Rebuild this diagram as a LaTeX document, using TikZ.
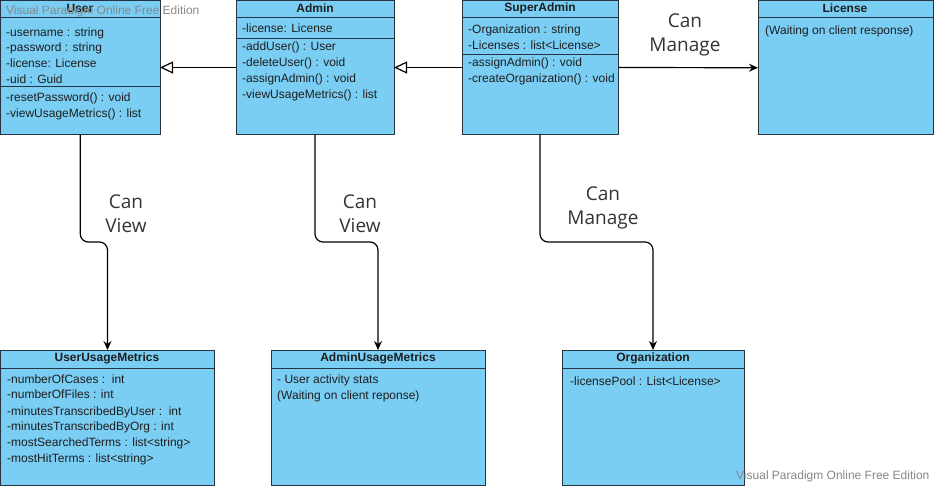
\documentclass[tikz,border=0pt]{standalone}
\usepackage{fontspec}
\setmainfont{Liberation Sans}
\newfontfamily\linkfont{Open Sans}
\usetikzlibrary{arrows.meta}

\definecolor{boxfill}{RGB}{122,206,244}
\definecolor{boxline}{RGB}{38,52,66}
\definecolor{markgray}{RGB}{135,135,135}
\definecolor{inktext}{RGB}{30,30,30}

\tikzset{
  classbox/.style={draw=boxline, fill=boxfill, line width=1pt, anchor=north west, inner sep=0pt, outer sep=0pt},
  sepline/.style={draw=boxline, line width=1pt},
  head/.style={font=\fontsize{12}{14}\selectfont\bfseries, text=inktext, inner sep=0pt},
  member/.style={font=\fontsize{12}{14}\selectfont, text=inktext, anchor=mid west, inner sep=0pt, yshift=-1.5pt},
  linklabel/.style={font=\linkfont\fontsize{19}{24}\selectfont, align=center, text=black!80, inner sep=0pt},
  generalize/.style={-{Triangle[open,length=13pt,width=12pt]}, line width=1.2pt},
  assoc/.style={-{Stealth[length=9pt,width=8pt]}, line width=1.2pt},
  elbow/.style={assoc, rounded corners=8pt},
  watermark/.style={font=\fontsize{12}{14}\selectfont, text=markgray, inner sep=0pt, anchor=mid west}
}

\begin{document}
\begin{tikzpicture}[x=1pt, y=-1pt]
\useasboundingbox (0,0) rectangle (934,486);

% ---------- class boxes ----------
\node[classbox, minimum width=159.5pt, minimum height=134pt] (user)  at (0.5,0.5) {};
\node[classbox, minimum width=158pt,   minimum height=134pt] (admin) at (236,0.5) {};
\node[classbox, minimum width=156pt,   minimum height=134pt] (super) at (462,0.5) {};
\node[classbox, minimum width=175pt,   minimum height=134.5pt] (lic) at (758,0.5) {};
\node[classbox, minimum width=214pt,   minimum height=135pt] (uum)   at (0.5,350) {};
\node[classbox, minimum width=214pt,   minimum height=135pt] (aum)   at (271,350) {};
\node[classbox, minimum width=182pt,   minimum height=135pt] (org)   at (562,350) {};

% compartment separators
\draw[sepline] ([yshift=-17pt]user.north west) -- ([yshift=-17pt]user.north east);
\draw[sepline] ([yshift=-86pt]user.north west) -- ([yshift=-86pt]user.north east);
\draw[sepline] ([yshift=-17pt]admin.north west) -- ([yshift=-17pt]admin.north east);
\draw[sepline] ([yshift=-38pt]admin.north west) -- ([yshift=-38pt]admin.north east);
\draw[sepline] ([yshift=-17pt]super.north west) -- ([yshift=-17pt]super.north east);
\draw[sepline] ([yshift=-54pt]super.north west) -- ([yshift=-54pt]super.north east);
\draw[sepline] ([yshift=-17pt]lic.north west) -- ([yshift=-17pt]lic.north east);
\draw[sepline] ([yshift=-18pt]uum.north west) -- ([yshift=-18pt]uum.north east);
\draw[sepline] ([yshift=-18pt]aum.north west) -- ([yshift=-18pt]aum.north east);
\draw[sepline] ([yshift=-18pt]org.north west) -- ([yshift=-18pt]org.north east);

% ---------- User ----------
\node[head] (user-title) at (80,8) {User};
\node[member] (user-a1) at (6,32) {-username : string};
\node[member] (user-a2) at (6,47.5) {-password : string};
\node[member] (user-a3) at (6,63) {-license: License};
\node[member] (user-a4) at (6,79) {-uid : Guid};
\node[member] (user-m1) at (6,97) {-resetPassword() : void};
\node[member] (user-m2) at (6,113) {-viewUsageMetrics() : list};

% ---------- Admin ----------
\node[head] (admin-title) at (315,8) {Admin};
\node[member] (admin-a1) at (242,28) {-license: License};
\node[member] (admin-m1) at (242,46) {-addUser() : User};
\node[member] (admin-m2) at (242,62) {-deleteUser() : void};
\node[member] (admin-m3) at (242,78.5) {-assignAdmin() : void};
\node[member] (admin-m4) at (242,94.5) {-viewUsageMetrics() : list};

% ---------- SuperAdmin ----------
\node[head] (super-title) at (540,8) {SuperAdmin};
\node[member] (super-a1) at (468,29) {-Organization : string};
\node[member] (super-a2) at (468,45) {-Licenses : list<License>};
\node[member] (super-m1) at (468,62) {-assignAdmin() : void};
\node[member] (super-m2) at (468,78) {-createOrganization() : void};

% ---------- License ----------
\node[head] (lic-title) at (845,8) {License};
\node[member] (lic-a1) at (765,30) {(Waiting on client response)};

% ---------- UserUsageMetrics ----------
\node[head] (uum-title) at (107,358) {UserUsageMetrics};
\node[member] (uum-a1) at (7,379) {-numberOfCases :\ \ int};
\node[member] (uum-a2) at (7,394.5) {-numberOfFiles : int};
\node[member] (uum-a3) at (7,411) {-minutesTranscribedByUser :\ \ int};
\node[member] (uum-a4) at (7,426.5) {-minutesTranscribedByOrg : int};
\node[member] (uum-a5) at (7,442) {-mostSearchedTerms : list<string>};
\node[member] (uum-a6) at (7,458) {-mostHitTerms : list<string>};

% ---------- AdminUsageMetrics ----------
\node[head] (aum-title) at (378,358) {AdminUsageMetrics};
\node[member] (aum-a1) at (277,379) {- User activity stats};
\node[member] (aum-a2) at (277,395) {(Waiting on client reponse)};

% ---------- Organization ----------
\node[head] (org-title) at (653,358) {Organization};
\node[member] (org-a1) at (570,381.5) {-licensePool : List<License>};

% ---------- relations ----------
\draw[generalize] (admin.west) -- (user.east);
\draw[generalize] (super.west) -- (admin.east);
\draw[assoc] (super.east) -- (lic.west);

\draw[elbow] (user.south)  |- (uum.north |- 0,242) -- (uum.north);
\draw[elbow] (admin.south) |- (aum.north |- 0,242) -- (aum.north);
\draw[elbow] (super.south) |- (org.north |- 0,242) -- (org.north);

% relation labels
\node[linklabel] (view-user)  at (126,214) {Can\\View};
\node[linklabel] (view-admin) at (360,214) {Can\\View};
\node[linklabel] (manage-org) at (603,207.5) {Can\\Manage};
\node[linklabel] (manage-lic) at (685,35)  {Can\\Manage};

% ---------- watermarks ----------
\node[watermark] (wm-top)    at (6,12)    {Visual Paradigm Online Free Edition};
\node[watermark] (wm-bottom) at (736,477) {Visual Paradigm Online Free Edition};
\end{tikzpicture}
\end{document}
